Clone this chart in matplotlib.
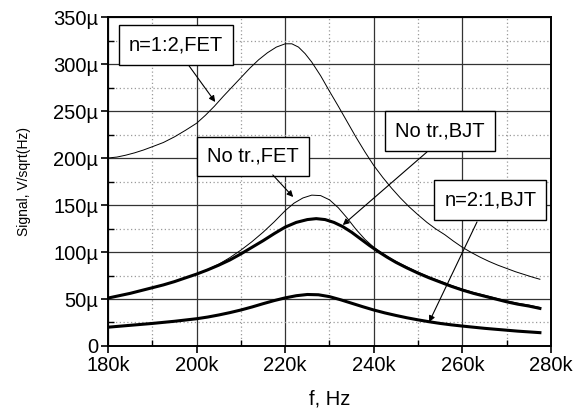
import matplotlib
matplotlib.use("Agg")
import matplotlib.pyplot as plt
from matplotlib.ticker import MultipleLocator, FuncFormatter

plt.rcParams['font.family'] = ['Liberation Sans', 'DejaVu Sans']

# f in kHz, signal in µV/sqrt(Hz)
f_A = [180, 182, 184, 186, 188, 190, 192.5, 195, 197.5, 200, 202, 204, 206, 208, 210, 212,
       214, 216, 218, 220, 221.5, 223, 224.5, 226, 228, 230, 232, 234, 236, 238, 240, 242,
       244, 246, 248, 250, 252, 254, 256, 258, 260, 262, 264, 266, 268, 270, 272, 274, 276, 277.5]
s_A = [200, 201, 203, 205.5, 208.5, 212, 216.5, 222.5, 229.5, 237, 245.5, 255, 265.5, 275.5, 285.5, 295.5,
       304.5, 312, 318, 321.5, 321.5, 318, 311, 302, 287.5, 271, 255, 238.5, 222, 206.5, 192, 179.5,
       168, 157.5, 148, 139.5, 131.5, 124.5, 118.5, 111.5, 105, 99.5, 94.5, 90, 86, 82.5, 79, 76, 73, 71]

f_B = [180, 182.5, 185, 187.5, 190, 192.5, 195, 197.5, 200, 202.5, 205, 207.5, 210, 212.5, 215,
       217.5, 220, 222, 224, 226, 228, 230, 232, 234, 236, 238, 240, 242, 244, 246, 248, 250,
       252.5, 255, 257.5, 260, 262.5, 265, 267.5, 270, 272.5, 275, 277.5]
s_B = [51, 53.5, 56, 59, 62, 65, 68.5, 72.5, 76.5, 81.5, 87, 94, 102, 111, 121,
       132, 144, 152, 157.5, 160.5, 160, 155.5, 147, 136, 124, 113.5, 105, 98.5, 92.5, 87.5, 83, 78.5,
       73.5, 69, 64.5, 60.5, 57, 54, 51, 48, 45.5, 43.5, 41]

f_C = [180, 182.5, 185, 187.5, 190, 192.5, 195, 197.5, 200, 202.5, 205, 207.5, 210, 212.5, 215,
       217.5, 220, 222.5, 225, 227, 229, 231, 233, 235, 237, 239, 241, 243, 245, 247.5, 250,
       252.5, 255, 257.5, 260, 262.5, 265, 267.5, 270, 272.5, 275, 277.5]
s_C = [51, 53.5, 56, 59, 62, 65, 68.5, 72.5, 76.5, 81, 86, 91.5, 98, 105, 112,
       119.5, 126.5, 131.5, 134.5, 135.5, 134.5, 131.5, 127, 121, 114, 107, 100.5, 94.5, 89, 83, 77.5,
       72.5, 68, 63.5, 59.5, 56, 53, 50, 47, 44.5, 42.5, 40]

f_D = [180, 185, 190, 195, 200, 202.5, 205, 207.5, 210, 212.5, 215, 217.5, 220, 222.5, 225,
       227.5, 230, 232.5, 235, 237.5, 240, 242.5, 245, 247.5, 250, 252.5, 255, 257.5, 260,
       262.5, 265, 267.5, 270, 272.5, 275, 277.5]
s_D = [20, 22, 24, 26.3, 29, 30.8, 33, 35.5, 38.3, 41.5, 45, 48.3, 51.2, 53.5, 54.8,
       54.5, 52.5, 49.2, 45.5, 41.8, 38.3, 35.2, 32.5, 30, 27.8, 25.8, 24, 22.5, 21.2,
       20, 18.8, 17.8, 16.8, 15.8, 15, 14.2]

labels = ["n=1:2,FET", "No tr.,FET", "No tr.,BJT", "n=2:1,BJT"]

fig = plt.figure(figsize=(5.82, 4.12), dpi=100)
ax = fig.add_axes([0.1856, 0.1602, 0.7611, 0.7985])

ax.plot(f_A, s_A, color='k', lw=0.7, zorder=3)
ax.plot(f_B, s_B, color='k', lw=0.7, zorder=3)
ax.plot(f_C, s_C, color='k', lw=2.2, zorder=3)
ax.plot(f_D, s_D, color='k', lw=2.2, zorder=3)

ax.set_xlim(180, 280)
ax.set_ylim(0, 350)
ax.xaxis.set_major_locator(MultipleLocator(20))
ax.xaxis.set_minor_locator(MultipleLocator(10))
ax.yaxis.set_major_locator(MultipleLocator(50))
ax.yaxis.set_minor_locator(MultipleLocator(25))
ax.xaxis.set_major_formatter(FuncFormatter(lambda v, p: f"{v:.0f}k"))
ax.yaxis.set_major_formatter(FuncFormatter(lambda v, p: "0" if v == 0 else f"{v:.0f}µ"))

ax.grid(True, which='major', color='#333333', lw=0.9, ls='-', zorder=1)
ax.grid(True, which='minor', color='#9a9a9a', lw=0.9, ls=(0, (1, 2)), zorder=1)
ax.set_axisbelow(True)

ax.tick_params(which='major', direction='out', length=5, width=1.2, labelsize=14.5, pad=2)
ax.tick_params(which='minor', direction='in', length=4, width=1.0)
for sp in ax.spines.values():
    sp.set_linewidth(1.4)

ax.set_xlabel("f, Hz", fontsize=14.5, labelpad=11)
ax.set_ylabel("Signal, V/sqrt(Hz)", fontsize=10, labelpad=16)

box = dict(boxstyle='square,pad=0.5', fc='white', ec='black', lw=1.0)
text_pos = [(195.35, 320.2), (212.7, 202), (254.9, 228.7), (266.3, 155.3)]
arrows = [((198.3, 298), (204.2, 259.6)),
          ((217.2, 182), (221.8, 158.5)),
          ((252.0, 206.4), (233.0, 128.7)),
          ((263.3, 132), (252.5, 25.5))]
for lab, (tx, ty), (st, en) in zip(labels, text_pos, arrows):
    ax.text(tx, ty, lab, fontsize=14.5, ha='center', va='center', bbox=box, zorder=5)
    ax.annotate('', xy=en, xytext=st,
                arrowprops=dict(arrowstyle='-|>', lw=0.8, color='k', mutation_scale=9,
                                shrinkA=0, shrinkB=0), zorder=5)

fig.savefig("out.png", dpi=100)
